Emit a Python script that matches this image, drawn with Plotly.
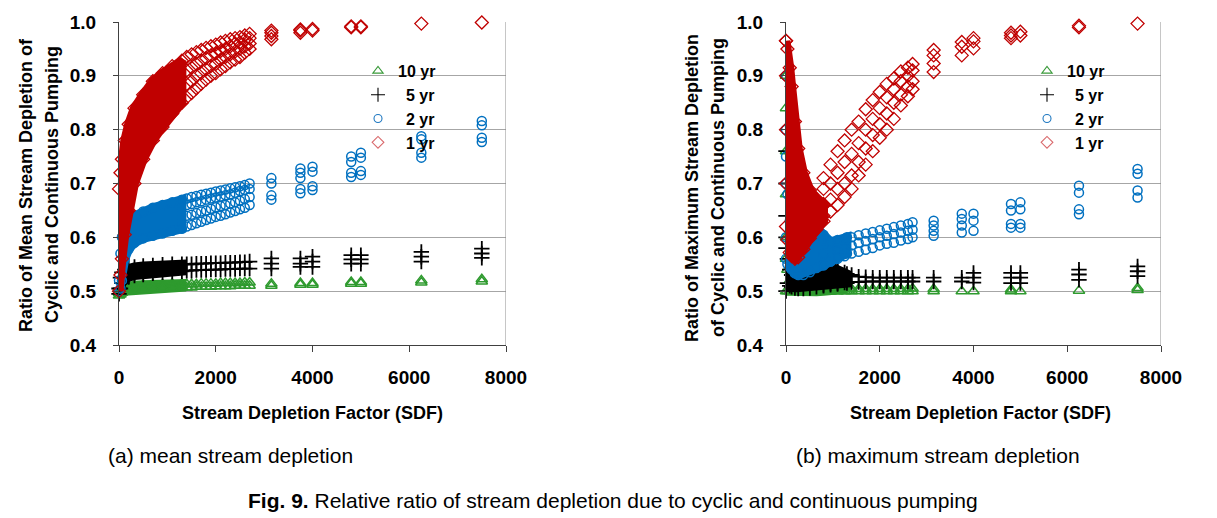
import plotly.graph_objects as go

# ---------------- data ----------------
SERIES = ["10 yr", "5 yr", "2 yr", "1 yr"]
SDF_TICKS = [0, 2000, 4000, 6000, 8000]
RATIO_TICKS = [0.4, 0.5, 0.6, 0.7, 0.8, 0.9, 1.0]

# (a) mean stream depletion: dense region (SDF 0-1300), lower / upper envelope
mean_band_x = [0, 30, 60, 120, 200, 320, 500, 700, 900, 1100, 1300]
mean_1yr_hi = [0.69, 0.72, 0.745, 0.78, 0.81, 0.84, 0.865, 0.89, 0.905, 0.918, 0.928]
mean_1yr_lo = [0.50, 0.53, 0.56, 0.605, 0.65, 0.70, 0.745, 0.78, 0.805, 0.83, 0.85]
mean_2yr_hi = [0.52, 0.57, 0.60, 0.62, 0.632, 0.64, 0.648, 0.655, 0.66, 0.665, 0.67]
mean_2yr_lo = [0.50, 0.505, 0.52, 0.56, 0.578, 0.59, 0.598, 0.603, 0.607, 0.612, 0.616]
mean_5yr_hi = [0.505, 0.525, 0.535, 0.54, 0.543, 0.545, 0.547, 0.548, 0.549, 0.55, 0.55]
mean_5yr_lo = [0.495, 0.505, 0.515, 0.522, 0.526, 0.529, 0.531, 0.533, 0.535, 0.536, 0.537]
mean_10yr_hi = [0.497, 0.502, 0.505, 0.508, 0.51, 0.511, 0.512, 0.513, 0.513, 0.514, 0.514]
mean_10yr_lo = [0.492, 0.494, 0.497, 0.5, 0.502, 0.503, 0.504, 0.505, 0.506, 0.506, 0.507]

# (a) scattered markers, SDF 1400-2700 (several values per column)
mean_cols_x = [1400, 1500, 1600, 1700, 1800, 1900, 2000, 2100, 2200, 2300, 2400, 2500, 2600, 2700]
mean_1yr_c1 = [0.86, 0.868, 0.877, 0.885, 0.893, 0.9, 0.905, 0.912, 0.918, 0.925, 0.93, 0.935, 0.943, 0.95]
mean_1yr_c2 = [0.885, 0.89, 0.9, 0.905, 0.912, 0.918, 0.922, 0.93, 0.935, 0.94, 0.945, 0.95, 0.955, 0.96]
mean_1yr_c3 = [0.91, 0.915, 0.922, 0.928, 0.933, 0.938, 0.942, 0.946, 0.95, 0.955, 0.96, 0.962, 0.967, 0.97]
mean_1yr_c4 = [0.935, 0.94, 0.944, 0.948, 0.952, 0.955, 0.958, 0.962, 0.965, 0.968, 0.97, 0.972, 0.975, 0.978]
mean_2yr_c1 = [0.62, 0.623, 0.626, 0.629, 0.632, 0.635, 0.638, 0.64, 0.643, 0.646, 0.649, 0.652, 0.655, 0.66]
mean_2yr_c2 = [0.64, 0.642, 0.645, 0.648, 0.65, 0.653, 0.656, 0.658, 0.66, 0.663, 0.665, 0.668, 0.671, 0.675]
mean_2yr_c3 = [0.66, 0.662, 0.665, 0.667, 0.67, 0.672, 0.674, 0.676, 0.678, 0.68, 0.683, 0.686, 0.688, 0.69]
mean_2yr_c4 = [0.672, 0.675, 0.677, 0.679, 0.681, 0.683, 0.685, 0.687, 0.689, 0.691, 0.693, 0.695, 0.697, 0.70]
mean_5yr_c1 = [0.538, 0.538, 0.539, 0.539, 0.539, 0.54, 0.54, 0.54, 0.541, 0.541, 0.541, 0.542, 0.542, 0.542]
mean_5yr_c2 = [0.55, 0.55, 0.551, 0.551, 0.551, 0.552, 0.552, 0.552, 0.553, 0.553, 0.553, 0.554, 0.554, 0.555]
mean_10yr_c1 = [0.507, 0.507, 0.508, 0.508, 0.508, 0.508, 0.509, 0.509, 0.509, 0.509, 0.51, 0.51, 0.51, 0.51]
mean_10yr_c2 = [0.513, 0.513, 0.513, 0.514, 0.514, 0.514, 0.514, 0.515, 0.515, 0.515, 0.515, 0.515, 0.516, 0.516]

# (a) stacked points at the large SDF values
mean_1yr_sx = [3150, 3150, 3150, 3150, 3750, 3750, 3750, 4000, 4000, 4800, 4800, 5000, 5000, 6250, 7500]
mean_1yr_sy = [0.968, 0.974, 0.98, 0.984, 0.98, 0.984, 0.986, 0.984, 0.987, 0.99, 0.992, 0.99, 0.992, 0.997, 0.999]
mean_2yr_sx = [3150, 3150, 3150, 3150, 3750, 3750, 3750, 3750, 3750, 4000, 4000, 4000, 4000,
               4800, 4800, 4800, 4800, 5000, 5000, 5000, 5000, 6250, 6250, 6250, 6250, 7500, 7500, 7500, 7500]
mean_2yr_sy = [0.67, 0.678, 0.70, 0.71, 0.682, 0.69, 0.71, 0.72, 0.728, 0.688, 0.695, 0.722, 0.731,
               0.712, 0.72, 0.74, 0.75, 0.716, 0.723, 0.748, 0.757, 0.748, 0.757, 0.782, 0.788, 0.777, 0.785, 0.808, 0.816]
mean_5yr_sx = [3150, 3150, 3150, 3750, 3750, 3750, 4000, 4000, 4000, 4800, 4800, 4800, 5000, 5000, 5000, 6250, 6250, 6250, 7500, 7500, 7500]
mean_5yr_sy = [0.542, 0.551, 0.561, 0.545, 0.551, 0.561, 0.545, 0.555, 0.564, 0.551, 0.559, 0.567, 0.551, 0.559, 0.567, 0.555, 0.564, 0.573, 0.562, 0.570, 0.579]
mean_10yr_sx = [3150, 3150, 3750, 3750, 4000, 4000, 4800, 4800, 5000, 5000, 6250, 6250, 7500, 7500]
mean_10yr_sy = [0.51, 0.514, 0.512, 0.515, 0.512, 0.515, 0.514, 0.517, 0.514, 0.517, 0.516, 0.52, 0.518, 0.522]

# (b) maximum stream depletion: dense region, lower / upper envelope
max_band_x = [0, 30, 80, 120, 190, 260, 370, 510, 650, 800, 950, 1100, 1300]
max_1yr_hi = [0.965, 0.95, 0.915, 0.88, 0.815, 0.765, 0.72, 0.688, 0.672, 0.662, None, None, None]
max_1yr_lo = [0.62, 0.595, 0.572, 0.565, 0.56, 0.563, 0.578, 0.598, 0.615, 0.63, None, None, None]
max_2yr_hi = [0.75, 0.68, 0.63, 0.61, 0.60, 0.60, 0.60, 0.61, 0.618, 0.605, 0.592, 0.595, 0.60]
max_2yr_lo = [0.56, 0.55, 0.545, 0.54, 0.533, 0.53, 0.53, 0.535, 0.543, 0.548, 0.555, 0.563, 0.57]
max_5yr_hi = [0.60, 0.56, 0.54, 0.53, 0.525, 0.522, 0.522, 0.526, 0.535, 0.542, 0.545, 0.54, 0.532]
max_5yr_lo = [0.50, 0.515, 0.51, 0.508, 0.506, 0.505, 0.505, 0.506, 0.508, 0.51, 0.512, 0.513, 0.515]
max_10yr_hi = [0.56, 0.54, 0.52, 0.512, 0.507, 0.505, 0.504, 0.504, 0.504, 0.504, 0.504, 0.504, 0.504]
max_10yr_lo = [0.50, 0.50, 0.50, 0.499, 0.499, 0.499, 0.499, 0.499, 0.499, 0.50, 0.50, 0.50, 0.50]

# (b) values read at SDF = 0 (markers stacked on the axis)
max_zero_1yr = [0.70, 0.80, 0.90, 0.965]
max_zero_2yr = [0.60, 0.70, 0.80, 0.90]
max_zero_5yr = [0.58, 0.64, 0.70, 0.76]
max_zero_10yr = [0.60, 0.68, 0.76, 0.84, 0.90]

# (b) scattered markers
max_cols_x = [800, 950, 1100, 1250, 1400, 1550, 1700, 1850, 2000, 2150, 2300, 2450, 2600, 2700]
max_1yr_c1 = [0.64, 0.648, 0.66, 0.675, 0.69, 0.715, 0.735, 0.76, 0.785, 0.80, 0.82, 0.845, 0.862, 0.875]
max_1yr_c2 = [0.66, 0.67, 0.69, 0.70, 0.715, 0.74, 0.765, 0.79, 0.81, 0.83, 0.85, 0.865, 0.88, 0.89]
max_1yr_c3 = [0.69, 0.70, 0.72, 0.74, 0.755, 0.775, 0.80, 0.82, 0.84, 0.86, 0.875, 0.89, 0.90, 0.91]
max_1yr_c4 = [0.71, 0.735, 0.76, 0.78, 0.80, 0.815, 0.838, 0.855, 0.87, 0.885, 0.895, 0.908, 0.915, 0.922]
max_2yr_c1 = [0.548, 0.555, 0.56, 0.565, 0.57, 0.573, 0.577, 0.58, 0.585, 0.588, 0.59, 0.594, 0.597, 0.60]
max_2yr_c2 = [0.57, 0.572, 0.575, 0.58, 0.585, 0.59, 0.593, 0.597, 0.60, 0.603, 0.606, 0.609, 0.612, 0.614]
max_2yr_c3 = [0.595, 0.59, 0.592, 0.596, 0.60, 0.604, 0.607, 0.61, 0.613, 0.616, 0.619, 0.622, 0.625, 0.628]
max_5yr_c1 = [0.512, 0.514, 0.515, 0.516, 0.517, 0.517, 0.518, 0.518, 0.518, 0.518, 0.518, 0.518, 0.518, 0.518]
max_5yr_c2 = [0.54, 0.545, 0.54, 0.535, 0.53, 0.527, 0.526, 0.525, 0.525, 0.525, 0.525, 0.525, 0.525, 0.525]
max_10yr_c1 = [0.50, 0.50, 0.50, 0.50, 0.50, 0.50, 0.50, 0.50, 0.50, 0.50, 0.50, 0.50, 0.50, 0.50]
max_10yr_c2 = [0.503, 0.503, 0.503, 0.504, 0.504, 0.504, 0.504, 0.504, 0.504, 0.504, 0.504, 0.504, 0.504, 0.505]

# (b) stacked points at the large SDF values
max_1yr_sx = [3150, 3150, 3150, 3150, 3750, 3750, 3750, 4000, 4000, 4000, 4800, 4800, 4800, 5000, 5000, 6250, 6250, 7500]
max_1yr_sy = [0.907, 0.923, 0.938, 0.948, 0.938, 0.954, 0.963, 0.951, 0.964, 0.97, 0.97, 0.975, 0.98, 0.975, 0.982, 0.99, 0.993, 0.997]
max_2yr_sx = [3150, 3150, 3150, 3150, 3750, 3750, 3750, 3750, 4000, 4000, 4000, 4800, 4800, 4800, 4800,
              5000, 5000, 5000, 5000, 6250, 6250, 6250, 6250, 7500, 7500, 7500, 7500]
max_2yr_sy = [0.603, 0.612, 0.622, 0.631, 0.609, 0.622, 0.634, 0.644, 0.612, 0.631, 0.644, 0.618, 0.625, 0.65, 0.662,
              0.618, 0.625, 0.652, 0.665, 0.643, 0.652, 0.683, 0.696, 0.674, 0.687, 0.718, 0.727]
max_5yr_sx = [3150, 3150, 3750, 3750, 4000, 4000, 4000, 4800, 4800, 4800, 5000, 5000, 5000, 6250, 6250, 6250, 7500, 7500, 7500]
max_5yr_sy = [0.518, 0.525, 0.518, 0.525, 0.516, 0.525, 0.534, 0.515, 0.525, 0.534, 0.515, 0.525, 0.534, 0.521, 0.531, 0.54, 0.528, 0.537, 0.546]
max_10yr_sx = [3150, 3150, 3750, 4000, 4800, 4800, 5000, 6250, 7500, 7500]
max_10yr_sy = [0.50, 0.504, 0.50, 0.50, 0.50, 0.503, 0.50, 0.501, 0.502, 0.506]

# ---------------- styles ----------------
COL = {"10 yr": "#2E9A2E", "5 yr": "#000000", "2 yr": "#0070C0", "1 yr": "#C00000"}
LEG_COL = {"10 yr": "#3A9A3A", "5 yr": "#000000", "2 yr": "#1F78C1", "1 yr": "#D9696C"}
SYM = {"10 yr": "triangle-up-open", "5 yr": "cross-thin-open", "2 yr": "circle-open", "1 yr": "diamond-open"}
SIZE = {"10 yr": 10, "5 yr": 11, "2 yr": 9, "1 yr": 10}
LW = {"10 yr": 1.5, "5 yr": 1.8, "2 yr": 1.5, "1 yr": 1.3}
FONT = "Liberation Sans"

fig = go.Figure()


def add_series(name, bx, lo, hi, extra_x, extra_y, xa, ya):
    # dense region as a filled envelope
    px, py = [], []
    for x, h in zip(bx, hi):
        if h is not None:
            px.append(x); py.append(h)
    for x, l in zip(bx[::-1], lo[::-1]):
        if l is not None:
            px.append(x); py.append(l)
    fig.add_trace(go.Scatter(x=px, y=py, mode="lines", fill="toself", fillcolor=COL[name],
                             line=dict(color=COL[name], width=9), xaxis=xa, yaxis=ya,
                             showlegend=False, hoverinfo="skip"))
    mx, my = [], []
    for x, h, l in zip(bx, hi, lo):
        if h is not None:
            mx += [x, x]; my += [h, l]
    mx += extra_x; my += extra_y
    fig.add_trace(go.Scatter(x=mx, y=my, mode="markers", cliponaxis=False,
                             marker=dict(symbol=SYM[name], size=SIZE[name], color=COL[name],
                                         line=dict(color=COL[name], width=LW[name])),
                             xaxis=xa, yaxis=ya, showlegend=False, hoverinfo="skip"))


def cols(cx, *tiers):
    xs, ys = [], []
    for t in tiers:
        xs += cx; ys += t
    return xs, ys


# panel (a)
x, y = cols(mean_cols_x, mean_10yr_c1, mean_10yr_c2)
add_series("10 yr", mean_band_x, mean_10yr_lo, mean_10yr_hi, x + mean_10yr_sx, y + mean_10yr_sy, "x", "y")
x, y = cols(mean_cols_x, mean_5yr_c1, mean_5yr_c2)
add_series("5 yr", mean_band_x, mean_5yr_lo, mean_5yr_hi, x + mean_5yr_sx, y + mean_5yr_sy, "x", "y")
x, y = cols(mean_cols_x, mean_2yr_c1, mean_2yr_c2, mean_2yr_c3, mean_2yr_c4)
add_series("2 yr", mean_band_x, mean_2yr_lo, mean_2yr_hi, x + mean_2yr_sx, y + mean_2yr_sy, "x", "y")
x, y = cols(mean_cols_x, mean_1yr_c1, mean_1yr_c2, mean_1yr_c3, mean_1yr_c4)
add_series("1 yr", mean_band_x, mean_1yr_lo, mean_1yr_hi, x + mean_1yr_sx, y + mean_1yr_sy, "x", "y")

# panel (b)
x, y = cols(max_cols_x, max_10yr_c1, max_10yr_c2)
add_series("10 yr", max_band_x, max_10yr_lo, max_10yr_hi,
           x + max_10yr_sx + [0] * len(max_zero_10yr), y + max_10yr_sy + max_zero_10yr, "x2", "y2")
x, y = cols(max_cols_x, max_5yr_c1, max_5yr_c2)
add_series("5 yr", max_band_x, max_5yr_lo, max_5yr_hi,
           x + max_5yr_sx + [0] * len(max_zero_5yr), y + max_5yr_sy + max_zero_5yr, "x2", "y2")
x, y = cols(max_cols_x, max_2yr_c1, max_2yr_c2, max_2yr_c3)
add_series("2 yr", max_band_x, max_2yr_lo, max_2yr_hi,
           x + max_2yr_sx + [0] * len(max_zero_2yr), y + max_2yr_sy + max_zero_2yr, "x2", "y2")
x, y = cols(max_cols_x, max_1yr_c1, max_1yr_c2, max_1yr_c3, max_1yr_c4)
add_series("1 yr", max_band_x, max_1yr_lo, max_1yr_hi,
           x + max_1yr_sx + [0] * len(max_zero_1yr), y + max_1yr_sy + max_zero_1yr, "x2", "y2")

# legend entries
for lg, xa, ya in [("legend", "x", "y"), ("legend2", "x2", "y2")]:
    for i, name in enumerate(SERIES):
        label = name if name == "10 yr" else "\u2002" + name
        fig.add_trace(go.Scatter(x=[None], y=[None], mode="markers", name=label, legend=lg,
                                 xaxis=xa, yaxis=ya,
                                 marker=dict(symbol=SYM[name], size=SIZE[name] - 1, color=LEG_COL[name],
                                             line=dict(color=LEG_COL[name], width=1.1))))

# the page places the plot 8 px from the window's top-left corner
OFF = 8
W, H = 1217 - OFF, 518 - OFF


def fx(px):
    return (px - OFF) / W


def fy(py):
    return 1 - (py - OFF) / H


ydom = [fy(345), fy(22)]
tickfont = dict(family=FONT, size=19, color="black", weight="bold")


def xaxis(dom, anchor):
    return dict(domain=dom, range=[0, 8000], tickvals=SDF_TICKS, ticks="outside", ticklen=6,
                tickcolor="#404040", showline=True, linecolor="#404040", linewidth=1,
                showgrid=False, zeroline=False, tickfont=tickfont, ticklabelstandoff=9,
                anchor=anchor, fixedrange=True, automargin=False)


def yaxis(anchor):
    return dict(domain=ydom, range=[0.4, 1.0], tickvals=RATIO_TICKS, tickformat=".1f",
                ticks="outside", ticklen=5, tickcolor="#404040", showline=True,
                linecolor="#404040", linewidth=1, showgrid=True, gridcolor="#A6A6A6",
                gridwidth=1, zeroline=False, tickfont=tickfont, ticklabelstandoff=13,
                anchor=anchor, fixedrange=True, automargin=False)


ann_font = dict(family=FONT, size=18, color="black", weight="bold")
xt_font = dict(family=FONT, size=18, color="black", weight="bold")
annotations = []


def ann(text, px, py, angle=0, font=ann_font):
    annotations.append(dict(text=text, x=fx(px), y=fy(py), xref="paper", yref="paper",
                            showarrow=False, xanchor="center", yanchor="middle",
                            textangle=angle, font=font))


ann("Ratio of Mean Stream Depletion of", 26, 185, -90)
ann("Cyclic and Continuous Pumping", 52, 185, -90)
ann("Ratio of Maximum Stream Depletion", 692, 188, -90)
ann("of Cyclic and Continuous Pumping", 718, 188, -90)
ann("Stream Depletion Factor (SDF)", 312, 413, 0, xt_font)
ann("Stream Depletion Factor (SDF)", 980, 413, 0, xt_font)
cap_font = dict(family="Liberation Sans", size=21, color="black")
ann("(a) mean stream depletion", 230, 455, 0, cap_font)
ann("(b) maximum stream depletion", 938, 455, 0, cap_font)
ann("<b>Fig. 9.</b> Relative ratio of stream depletion due to cyclic and continuous pumping", 613, 500, 0, cap_font)

leg_font = dict(family=FONT, size=16, color="black", weight="bold")

fig.update_layout(
    width=W, height=H, margin=dict(l=0, r=0, t=0, b=0, autoexpand=False),
    paper_bgcolor="white", plot_bgcolor="white",
    xaxis=xaxis([fx(119), fx(506)], "y"), yaxis=yaxis("x"),
    xaxis2=xaxis([fx(786), fx(1161)], "y2"), yaxis2=yaxis("x2"),
    legend=dict(x=fx(358), y=fy(54), xanchor="left", yanchor="top", bgcolor="rgba(0,0,0,0)",
                font=leg_font, tracegroupgap=0, itemwidth=30, borderwidth=0),
    legend2=dict(x=fx(1027), y=fy(54), xanchor="left", yanchor="top", bgcolor="rgba(0,0,0,0)",
                 font=leg_font, tracegroupgap=0, itemwidth=30, borderwidth=0),
    annotations=annotations,
    shapes=[dict(type="line", xref="x", yref="y", x0=8000, x1=8000, y0=0.4, y1=1.0,
                 line=dict(color="#8C8C8C", width=1)),
            dict(type="line", xref="x2", yref="y2", x0=8000, x1=8000, y0=0.4, y1=1.0,
                 line=dict(color="#8C8C8C", width=1))],
    hovermode=False,
)

fig.write_html("out.html")
